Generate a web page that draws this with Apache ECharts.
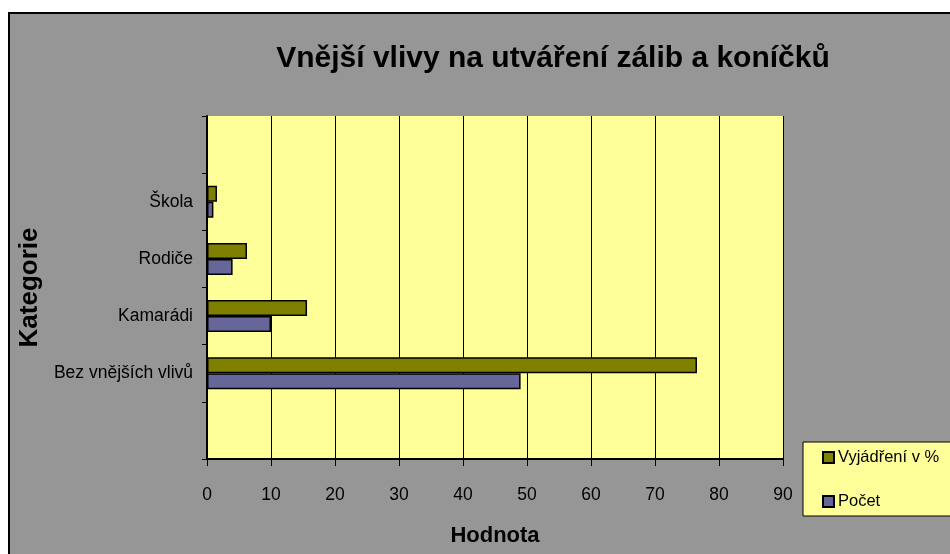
<!DOCTYPE html>
<html>
<head>
<meta charset="utf-8">
<script src="https://cdn.jsdelivr.net/npm/echarts@6/dist/echarts.min.js"></script>
<style>
  html, body { margin: 0; padding: 0; background: #fff; }
  #chart { width: 950px; height: 554px; }
</style>
</head>
<body>
<div id="chart"></div>
<script>
// categories bottom to top, with empty slots at both ends as in the original
const categories = ['', 'Bez vnějších vlivů', 'Kamarádi', 'Rodiče', 'Škola', '']
const pocet = [null, 49, 10, 4, 1, null]
const procenta = [null, 76.56, 15.63, 6.25, 1.56, null]
const xTicks = { min: 0, max: 90, interval: 10 }

const font = 'Liberation Sans, Arial, sans-serif'
const chart = echarts.init(document.getElementById('chart'))
chart.setOption({
  backgroundColor: '#fff',
  animation: false,
  graphic: [{
    type: 'rect',
    z: -10,
    shape: { x: 9, y: 13, width: 960, height: 560 },
    style: { fill: '#969696', stroke: '#000', lineWidth: 2 }
  }],
  title: {
    text: 'Vnější vlivy na utváření zálib a koníčků',
    left: 548,
    textAlign: 'center',
    top: 39,
    textStyle: { fontFamily: font, fontSize: 30, fontWeight: 'bold', color: '#000' }
  },
  legend: {
    orient: 'vertical',
    left: 803,
    top: 442,
    data: ['Vyjádření v %', 'Počet'],
    backgroundColor: '#ffff99',
    borderColor: '#000',
    borderWidth: 1,
    borderRadius: 0,
    padding: [7, 60, 6, 19],
    itemGap: 27,
    itemWidth: 11,
    itemHeight: 11,
    icon: 'rect',
    textStyle: { fontFamily: font, fontSize: 16.5, color: '#000', padding: [0, 0, 0, -1] }
  },
  grid: {
    left: 207, top: 116, width: 576, height: 343,
    show: true, backgroundColor: '#ffff99', borderWidth: 0
  },
  xAxis: {
    type: 'value',
    min: xTicks.min, max: xTicks.max, interval: xTicks.interval,
    name: 'Hodnota',
    nameLocation: 'middle',
    nameGap: 66,
    nameTextStyle: { fontFamily: font, fontSize: 22, fontWeight: 'bold', color: '#000' },
    axisLine: { show: true, lineStyle: { color: '#000', width: 2 } },
    axisTick: { show: true, length: 7, lineStyle: { color: '#000' } },
    axisLabel: { margin: 27, fontFamily: font, fontSize: 17.5, color: '#000' },
    splitLine: { show: true, lineStyle: { color: '#000', width: 1 } }
  },
  yAxis: {
    type: 'category',
    data: categories,
    name: 'Kategorie',
    nameLocation: 'middle',
    nameGap: 164,
    nameRotate: 90,
    nameTextStyle: { fontFamily: font, fontSize: 26, fontWeight: 'bold', color: '#000' },
    axisLine: { show: true, lineStyle: { color: '#000', width: 2 } },
    axisTick: { show: true, interval: 0, length: 5, lineStyle: { color: '#000' } },
    axisLabel: { interval: 0, margin: 14, fontFamily: font, fontSize: 17.5, color: '#000' },
    splitLine: { show: false }
  },
  series: [
    {
      name: 'Vyjádření v %', type: 'bar', data: procenta,
      barWidth: 16, barGap: '0%',
      itemStyle: { color: '#808000', borderColor: '#000', borderWidth: 1.5 }
    },
    {
      name: 'Počet', type: 'bar', data: pocet,
      barWidth: 16, barGap: '0%',
      itemStyle: { color: '#666699', borderColor: '#000', borderWidth: 1.5 }
    }
  ]
})
</script>
</body>
</html>
